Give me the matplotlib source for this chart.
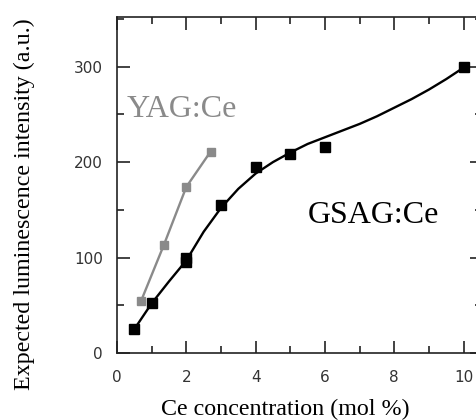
import numpy as np
from matplotlib import pyplot as plt
from matplotlib.ticker import MultipleLocator

# measured points, GSAG:Ce (black)
gsagX = [0.5, 1, 2, 2, 3, 4, 5, 6, 10]
gsagY = [25, 52, 95, 100, 155, 195, 208, 216, 300]

# smooth guide curve through GSAG:Ce
curveX = [0.5, 1, 1.5, 2, 2.5, 3, 3.5, 4, 4.5, 5, 5.5, 6, 6.5, 7, 7.5, 8, 8.5, 9, 9.5, 10]
curveY = [25, 52, 75, 97, 127, 152, 172, 188, 200, 210, 219, 226, 233, 240, 248, 257, 266, 276, 287, 299]

# YAG:Ce (gray)
yagX = [0.7, 1.35, 2.0, 2.7]
yagY = [55, 113, 174, 211]

serif = 'Liberation Serif'
gray = '#8a8a8a'

fig = plt.figure(figsize=(4.76, 4.20), dpi=100)
ax = fig.add_axes([117/476, 1-353/420, (482-117)/476, (353-17)/420])

ax.plot(curveX, curveY, color='black', lw=1.7, zorder=2)
ax.plot(gsagX, gsagY, 's', color='black', ms=6.5, zorder=3)
ax.plot(yagX, yagY, '-s', color=gray, lw=1.7, ms=6, zorder=3)

ax.text(0.28, 255, 'YAG:Ce', color=gray, fontsize=23, family=serif, va='center', ha='left')
ax.text(7.4, 144, 'GSAG:Ce', color='black', fontsize=23, family=serif, va='center', ha='center')

ax.set_xlim(0, 10.53)
ax.set_ylim(0, 352)
ax.xaxis.set_major_locator(MultipleLocator(2))
ax.xaxis.set_minor_locator(MultipleLocator(1))
ax.yaxis.set_major_locator(MultipleLocator(100))
ax.yaxis.set_minor_locator(MultipleLocator(50))

ax.tick_params(which='both', direction='in', top=True, right=True, color='#222222', width=1.2)
ax.tick_params(which='major', length=9)
ax.tick_params(which='minor', length=5)
ax.tick_params(axis='x', which='major', pad=12, labelsize=11, labelcolor='#333333')
ax.tick_params(axis='y', which='major', pad=10, labelsize=11, labelcolor='#333333')

for s in ax.spines.values():
    s.set_linewidth(1.2)
    s.set_color('#222222')

ax.set_xlabel('Ce concentration (mol %)', fontsize=17.3, family=serif)
ax.set_ylabel('Expected luminescence intensity (a.u.)', fontsize=17.3, family=serif)
ax.xaxis.set_label_coords(0.46, -0.137)
ax.yaxis.set_label_coords(-0.225, 0.4435)

plt.savefig('out.png', dpi=100)
